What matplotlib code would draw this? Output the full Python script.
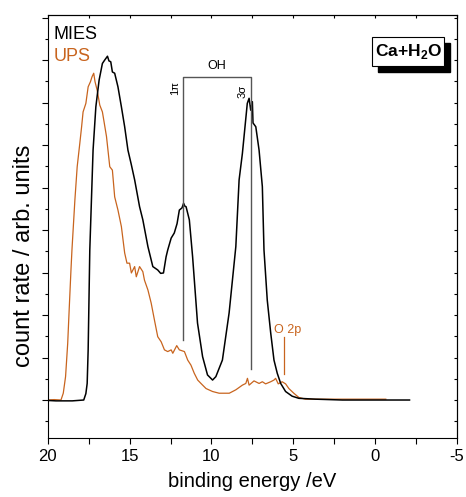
import matplotlib
matplotlib.use("Agg")
import matplotlib.pyplot as plt
from matplotlib.patches import Rectangle
from matplotlib.ticker import MultipleLocator

plt.rcParams["font.family"] = ["Liberation Sans", "DejaVu Sans"]
plt.rcParams["mathtext.fontset"] = "custom"
plt.rcParams["mathtext.rm"] = "Liberation Sans"
plt.rcParams["mathtext.bf"] = "Liberation Sans:bold"

# MIES spectrum (binding energy in eV, count rate in arb. units)
mies_e = [20.0, 19.5, 18.5, 17.8, 17.67, 17.59, 17.53, 17.43, 17.23, 17.06,
          16.86, 16.66, 16.52, 16.35, 16.26, 16.15, 16.05, 15.91, 15.71, 15.50,
          15.30, 15.10, 14.90, 14.69, 14.39, 14.19, 13.88, 13.58, 13.28, 13.10,
          12.93, 12.77, 12.67, 12.46, 12.27, 12.10, 11.96, 11.80, 11.70, 11.62,
          11.55, 11.35, 11.15, 10.85, 10.54, 10.24, 9.93, 9.73, 9.33, 8.92,
          8.51, 8.31, 8.11, 7.81, 7.70, 7.60, 7.50, 7.46, 7.29, 7.09,
          6.89, 6.79, 6.59, 6.38, 6.18, 5.98, 5.77, 5.47, 5.07, 4.66,
          3.65, 2.0, 0.0, -2.1]
mies_i = [-0.01, -0.02, -0.02, 0.0, 0.15, 0.39, 1.18, 3.53, 5.88, 6.90,
          7.53, 7.92, 8.00, 8.09, 7.98, 7.96, 7.72, 7.69, 7.37, 6.90,
          6.43, 5.88, 5.55, 5.18, 4.55, 4.24, 3.61, 3.14, 3.06, 2.98,
          2.99, 3.37, 3.53, 3.81, 3.93, 4.15, 4.47, 4.52, 4.63, 4.56,
          4.55, 4.24, 3.37, 1.81, 1.02, 0.59, 0.47, 0.55, 0.94, 2.05,
          3.61, 5.18, 5.80, 6.98, 7.10, 6.82, 7.02, 6.52, 6.43, 5.88,
          5.02, 3.53, 2.35, 1.58, 0.94, 0.63, 0.39, 0.20, 0.09, 0.04,
          0.02, 0.0, 0.0, 0.0]

# UPS spectrum
ups_e = [20.0, 19.6, 19.19, 19.05, 18.91, 18.78, 18.69, 18.58, 18.52, 18.34,
         18.20, 18.04, 17.93, 17.84, 17.67, 17.53, 17.39, 17.29, 17.19, 17.11,
         16.98, 16.82, 16.66, 16.56, 16.41, 16.32, 16.21, 16.05, 15.91, 15.71,
         15.50, 15.30, 15.16, 15.00, 14.89, 14.69, 14.59, 14.39, 14.19, 14.09,
         13.88, 13.68, 13.48, 13.28, 13.07, 12.87, 12.67, 12.46, 12.36, 12.12,
         11.96, 11.65, 11.45, 11.25, 11.05, 10.84, 10.64, 10.33, 9.93, 9.53,
         8.91, 8.51, 8.11, 7.90, 7.80, 7.70, 7.40, 7.09, 6.89, 6.69,
         6.38, 6.18, 6.08, 5.92, 5.68, 5.47, 5.27, 4.97, 4.66, 4.26,
         2.0, -0.65]
ups_i = [0.0, 0.01, 0.0, 0.16, 0.55, 1.33, 2.12, 3.06, 3.53, 4.71,
         5.49, 6.04, 6.43, 6.78, 6.98, 7.37, 7.49, 7.61, 7.69, 7.49,
         7.29, 6.94, 6.78, 6.55, 6.20, 5.88, 5.49, 5.41, 4.78, 4.47,
         4.08, 3.46, 3.22, 3.22, 2.99, 3.14, 2.90, 3.14, 3.02, 2.82,
         2.59, 2.28, 1.88, 1.49, 1.37, 1.18, 1.14, 1.18, 1.10, 1.28,
         1.18, 1.14, 0.94, 0.82, 0.63, 0.47, 0.39, 0.27, 0.20, 0.16,
         0.16, 0.24, 0.35, 0.39, 0.51, 0.35, 0.45, 0.39, 0.43, 0.38,
         0.43, 0.47, 0.51, 0.38, 0.43, 0.38, 0.27, 0.16, 0.06, 0.02,
         0.02, 0.02]

# OH assignment bracket (1pi and 3sigma)
oh_1pi = 11.76
oh_3sigma = 7.60
oh_top = 7.60
oh_1pi_bottom = 1.41
oh_3sigma_bottom = 0.72
o2p_e = 5.57
o2p_range = (0.61, 1.48)

ups_color = "#c8641e"
bracket_color = "#555555"

fig = plt.figure(figsize=(4.66, 4.97), dpi=100)
ax = fig.add_axes([0.1024, 0.1193, 0.8783, 0.8505])

ax.plot(ups_e, ups_i, color=ups_color, lw=0.9)
ax.plot(mies_e, mies_i, color="black", lw=1.1)

ax.plot([oh_1pi, oh_1pi, oh_3sigma, oh_3sigma],
        [oh_1pi_bottom, oh_top, oh_top, oh_3sigma_bottom],
        color=bracket_color, lw=1.0)
ax.text((oh_1pi + oh_3sigma) / 2, oh_top + 0.12, "OH", ha="center", va="bottom",
        fontsize=9)
ax.text(12.25, 7.35, "1π", rotation=90, ha="center", va="center", fontsize=8)
ax.text(8.11, 7.27, "3σ", rotation=90, ha="center", va="center", fontsize=8)

ax.plot([o2p_e, o2p_e], o2p_range, color=ups_color, lw=0.9)
ax.text(5.34, 1.65, "O 2p", color=ups_color, ha="center", va="center", fontsize=9)

ax.text(0.015, 0.953, "MIES", transform=ax.transAxes, fontsize=13,
        ha="left", va="center")
ax.text(0.015, 0.901, "UPS", transform=ax.transAxes, fontsize=13,
        color=ups_color, ha="left", va="center")

# label box with drop shadow
bx0, bx1, by0, by1 = 0.793, 0.969, 0.879, 0.947
ax.add_patch(Rectangle((bx0 + 0.0147, by0 - 0.0142), bx1 - bx0, by1 - by0,
                       transform=ax.transAxes, facecolor="black",
                       edgecolor="black", zorder=5))
ax.add_patch(Rectangle((bx0, by0), bx1 - bx0, by1 - by0,
                       transform=ax.transAxes, facecolor="white",
                       edgecolor="black", lw=0.8, zorder=6))
ax.text((bx0 + bx1) / 2, (by0 + by1) / 2, r"Ca+H$_\mathbf{2}$O",
        transform=ax.transAxes, fontsize=12.5, fontweight="bold",
        ha="center", va="center", zorder=7)

ax.set_xlim(20, -5)
ax.set_ylim(-0.887, 9.06)

ax.xaxis.set_major_locator(MultipleLocator(5))
ax.xaxis.set_minor_locator(MultipleLocator(2.5))
ax.yaxis.set_major_locator(MultipleLocator(1))
ax.yaxis.set_minor_locator(MultipleLocator(0.5))
ax.set_yticklabels([])
ax.tick_params(axis="x", which="both", direction="out", length=4.5, width=0.8,
               labelsize=12)
ax.tick_params(axis="y", which="major", direction="out", length=4.5, width=0.8)
ax.tick_params(axis="y", which="minor", direction="out", length=2.5, width=0.8)
ax.set_xticks([20, 15, 10, 5, 0, -5])
ax.set_xticklabels(["20", "15", "10", "5", "0", "-5"])

top = ax.secondary_xaxis("top")
top.xaxis.set_major_locator(MultipleLocator(2.5))
top.tick_params(direction="in", length=2.5, width=0.8, labeltop=False)
right = ax.secondary_yaxis("right")
right.yaxis.set_major_locator(MultipleLocator(0.5))
right.tick_params(direction="in", length=2.5, width=0.8, labelright=False)

for s in ax.spines.values():
    s.set_linewidth(0.8)

ax.set_xlabel("binding energy /eV", fontsize=14.5)
ax.set_ylabel("count rate / arb. units", fontsize=17)
ax.yaxis.set_label_coords(-0.031, 0.43)
ax.xaxis.set_label_coords(0.5, -0.082)
ax.xaxis.label.set_va("top")

fig.savefig("out.png", dpi=100)
